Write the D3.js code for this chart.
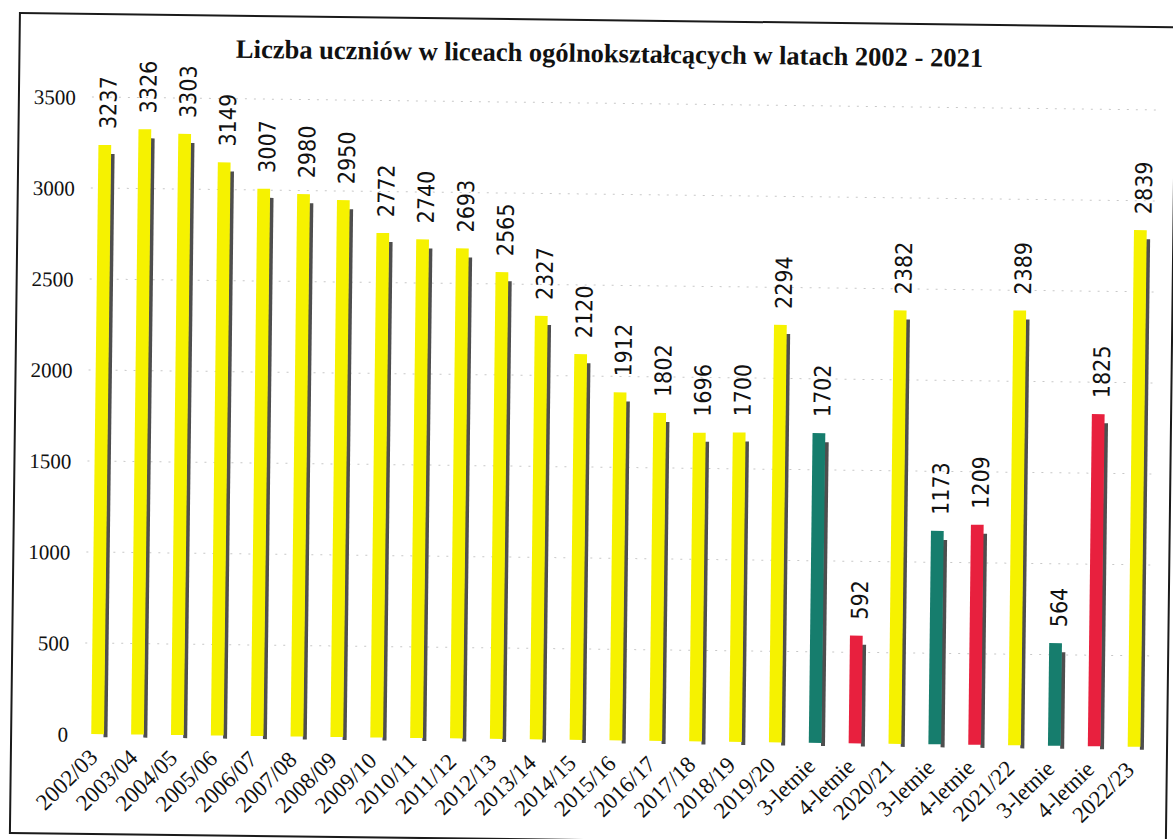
<!DOCTYPE html>
<html>
<head>
<meta charset="utf-8">
<script src="https://cdn.jsdelivr.net/npm/d3@7/dist/d3.min.js"></script>
<style>
  html, body { margin: 0; padding: 0; background: #ffffff; }
  svg { display: block; }
</style>
</head>
<body>
<svg id="chart" width="1173" height="839"></svg>
<script>
// ---- data ----
const title = "Liczba uczniów w liceach ogólnokształcących w latach 2002 - 2021";
const categories = [
  "2002/03", "2003/04", "2004/05", "2005/06", "2006/07", "2007/08", "2008/09",
  "2009/10", "2010/11", "2011/12", "2012/13", "2013/14", "2014/15", "2015/16",
  "2016/17", "2017/18", "2018/19", "2019/20", "3-letnie", "4-letnie", "2020/21",
  "3-letnie", "4-letnie", "2021/22", "3-letnie", "4-letnie", "2022/23"
];
const values = [
  3237, 3326, 3303, 3149, 3007, 2980, 2950,
  2772, 2740, 2693, 2565, 2327, 2120, 1912,
  1802, 1696, 1700, 2294, 1702, 592, 2382,
  1173, 1209, 2389, 564, 1825, 2839
];
const yTicks = [0, 500, 1000, 1500, 2000, 2500, 3000, 3500];

// ---- layout / style ----
const W = 1173, H = 839;
const baseY = 740, topY = 103;
const colorFor = c => c.startsWith("3-") ? "#167d6d" : (c.startsWith("4-") ? "#e8203e" : "#f6f200");

const data = categories.map((c, i) => ({ cat: c, val: values[i], idx: i }));

const svg = d3.select("#chart");
svg.append("rect").attr("width", W).attr("height", H).attr("fill", "#ffffff");

// slight tilt as in the scanned original
const g = svg.append("g").attr("transform", "rotate(0.7, 586, 420)");

// frame
g.append("rect")
  .attr("x", 15).attr("y", 20).attr("width", 1156).attr("height", 820)
  .attr("fill", "none").attr("stroke", "#1a1a1a").attr("stroke-width", 2);

const x = d3.scaleBand()
  .domain(d3.range(categories.length))
  .range([101.5 - 39.87 * 0.5 - 39.87 * 0.16, 1138 + 39.87 * 0.5 + 39.87 * 0.16])
  .paddingInner(0.68)
  .paddingOuter(0.5);

const y = d3.scaleLinear().domain([0, 3500]).range([baseY, topY]);

// gridlines
g.append("g")
  .selectAll("line")
  .data(yTicks.filter(t => t > 0))
  .join("line")
  .attr("x1", 88).attr("x2", 1152)
  .attr("y1", d => y(d)).attr("y2", d => y(d))
  .attr("stroke", "#c8c8c8").attr("stroke-width", 1)
  .attr("stroke-dasharray", "2,7");

// y axis labels
const yAxis = d3.axisLeft(y).tickValues(yTicks).tickSize(0).tickPadding(0).tickFormat(d3.format("d"));
const yG = g.append("g").attr("transform", "translate(72,0)").call(yAxis);
yG.attr("font-family", null).attr("font-size", null);
yG.select(".domain").remove();
yG.selectAll("text")
  .style("font-family", "'Liberation Serif', 'Times New Roman', serif")
  .style("font-size", "21px")
  .attr("fill", "#111")
  .attr("dy", "0.35em");

// bar shadows
const bw = x.bandwidth();
g.append("g")
  .selectAll("rect")
  .data(data)
  .join("rect")
  .attr("x", d => x(d.idx) + bw - 0.5)
  .attr("y", d => y(d.val) + 9)
  .attr("width", 4)
  .attr("height", d => baseY - y(d.val) - 6)
  .attr("fill", "#4e4e4e");

// bars
g.append("g")
  .selectAll("rect")
  .data(data)
  .join("rect")
  .attr("x", d => x(d.idx))
  .attr("y", d => y(d.val))
  .attr("width", bw)
  .attr("height", d => baseY - y(d.val))
  .attr("fill", d => colorFor(d.cat));

// value labels
g.append("g")
  .selectAll("text")
  .data(data)
  .join("text")
  .attr("transform", d => `translate(${x(d.idx) + bw / 2 + 3},${y(d.val) - 16}) rotate(-90)`)
  .attr("dy", "0.35em")
  .attr("text-anchor", "start")
  .style("font-family", "'Liberation Sans Narrow', 'Arial Narrow', 'DejaVu Sans Condensed', sans-serif")
  .style("font-size", "23px")
  .attr("fill", "#111")
  .text(d => d.val);

// category labels
const xAxis = d3.axisBottom(x).tickSize(0).tickPadding(0).tickFormat(i => categories[i]);
const xG = g.append("g").attr("transform", `translate(0,${baseY})`).call(xAxis);
xG.attr("font-family", null).attr("font-size", null);
xG.select(".domain").remove();
xG.selectAll("text")
  .style("font-family", "'Liberation Serif', 'Times New Roman', serif")
  .style("font-size", "23px")
  .attr("fill", "#111")
  .attr("text-anchor", "end")
  .attr("dy", "0.35em")
  .attr("transform", "translate(-4,19) rotate(-45)");

// title
g.append("text")
  .attr("x", 605).attr("y", 62)
  .attr("text-anchor", "middle")
  .style("font-family", "'Liberation Serif', 'Times New Roman', serif")
  .style("font-weight", "bold")
  .style("font-size", "26.5px")
  .attr("fill", "#111")
  .text(title);
</script>
</body>
</html>
